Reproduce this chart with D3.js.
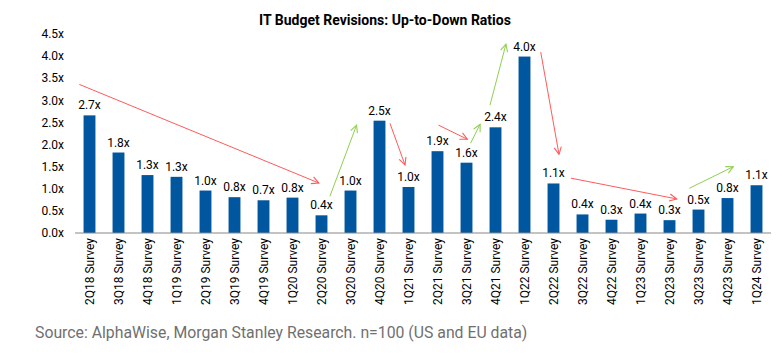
<!DOCTYPE html>
<html>
<head>
<meta charset="utf-8">
<script src="https://cdn.jsdelivr.net/npm/d3@7"></script>
<style>
body { margin: 0; background: #fff; }
text { font-family: Roboto, "Liberation Sans", sans-serif; }
</style>
</head>
<body>
<div id="chart-area"></div>
<script>
// surveys and up-to-down ratios
var surveys = ["2Q18", "3Q18", "4Q18", "1Q19", "2Q19", "3Q19", "4Q19", "1Q20", "2Q20", "3Q20",
    "4Q20", "1Q21", "2Q21", "3Q21", "4Q21", "1Q22", "2Q22", "3Q22", "4Q22", "1Q23", "2Q23",
    "3Q23", "4Q23", "1Q24"];
var ratios = [2.66, 1.82, 1.31, 1.27, 0.96, 0.81, 0.74, 0.80, 0.40, 0.96, 2.54, 1.04, 1.85,
    1.59, 2.39, 3.99, 1.12, 0.42, 0.30, 0.44, 0.29, 0.53, 0.79, 1.08];
var labels = ["2.7x", "1.8x", "1.3x", "1.3x", "1.0x", "0.8x", "0.7x", "0.8x", "0.4x", "1.0x",
    "2.5x", "1.0x", "1.9x", "1.6x", "2.4x", "4.0x", "1.1x", "0.4x", "0.3x", "0.4x", "0.3x",
    "0.5x", "0.8x", "1.1x"];
var yTicks = [0, 0.5, 1, 1.5, 2, 2.5, 3, 3.5, 4, 4.5];
// trend arrows: [from index, from value, to index, to value]
var redArrows = [
    [-0.35, 3.36, 7.91, 1.13],
    [10.36, 2.48, 10.88, 1.54],
    [12.03, 2.44, 13.03, 2.12],
    [15.56, 4.09, 16.19, 1.78],
    [16.60, 1.24, 20.25, 0.77]
];
var greenArrows = [
    [8.29, 0.83, 9.21, 2.44],
    [13.14, 2.03, 13.47, 2.46],
    [13.81, 2.89, 14.36, 4.27],
    [20.68, 1.01, 22.20, 1.50]
];

var margin = { left: 75, right: 13, top: 34, bottom: 121 };
var W = 784, H = 354;
var width = W - margin.left - margin.right;
var height = H - margin.top - margin.bottom;

var svg = d3.select("#chart-area").append("svg")
    .attr("width", W)
    .attr("height", H);
var g = svg.append("g")
    .attr("transform", "translate(" + margin.left + ", " + margin.top + ")");

var x = d3.scaleBand()
    .domain(surveys)
    .range([0, width])
    .paddingInner(0.59)
    .paddingOuter(0.295);
var y = d3.scaleLinear()
    .domain([0, 4.5])
    .range([height, 0]);
// fractional index -> pixel
var xi = function (i) { return x.step() * (i + 0.5); };

svg.append("text")
    .attr("x", 385)
    .attr("y", 25)
    .attr("text-anchor", "middle")
    .attr("font-size", "14px")
    .attr("font-weight", "bold")
    .text("IT Budget Revisions: Up-to-Down Ratios");

// y axis labels only
g.selectAll(".ytick").data(yTicks).enter().append("text")
    .attr("class", "ytick")
    .attr("x", -11)
    .attr("y", function (d) { return y(d); })
    .attr("dy", "0.35em")
    .attr("text-anchor", "end")
    .attr("font-size", "12px")
    .text(function (d) { return d.toFixed(1) + "x"; });

g.selectAll(".bar").data(ratios).enter().append("rect")
    .attr("class", "bar")
    .attr("x", function (d, i) { return x(surveys[i]); })
    .attr("y", function (d) { return y(d); })
    .attr("width", x.bandwidth())
    .attr("height", function (d) { return height - y(d); })
    .attr("fill", "#0057a0");

g.selectAll(".vlabel").data(ratios).enter().append("text")
    .attr("class", "vlabel")
    .attr("x", function (d, i) { return x(surveys[i]) + x.bandwidth() / 2; })
    .attr("y", function (d) { return y(d) - 6; })
    .attr("text-anchor", "middle")
    .attr("font-size", "12px")
    .text(function (d, i) { return labels[i]; });

g.append("line")
    .attr("x1", 0).attr("x2", width)
    .attr("y1", height).attr("y2", height)
    .attr("stroke", "#888")
    .attr("stroke-width", 1);

g.selectAll(".xlabel").data(surveys).enter().append("text")
    .attr("class", "xlabel")
    .attr("transform", function (d) {
        return "translate(" + (x(d) + x.bandwidth() / 2) + "," + (height + 5) + ") rotate(-90)";
    })
    .attr("dy", "0.35em")
    .attr("text-anchor", "end")
    .attr("font-size", "12px")
    .text(function (d) { return d + " Survey"; });

var defs = svg.append("defs");
function marker(id, color) {
    defs.append("marker")
        .attr("id", id)
        .attr("viewBox", "0 0 10 10")
        .attr("refX", 9).attr("refY", 5)
        .attr("markerWidth", 9).attr("markerHeight", 9)
        .attr("markerUnits", "userSpaceOnUse")
        .attr("orient", "auto")
        .append("path")
        .attr("d", "M1,1 L9,5 L1,9")
        .attr("fill", "none")
        .attr("stroke", color)
        .attr("stroke-width", 1.2);
}
marker("red-head", "#ff5b5b");
marker("green-head", "#8fd150");

function drawArrows(data, color, id) {
    g.selectAll(".arrow-" + id).data(data).enter().append("line")
        .attr("class", "arrow-" + id)
        .attr("x1", function (d) { return xi(d[0]); })
        .attr("y1", function (d) { return y(d[1]); })
        .attr("x2", function (d) { return xi(d[2]); })
        .attr("y2", function (d) { return y(d[3]); })
        .attr("stroke", color)
        .attr("stroke-width", 1)
        .attr("marker-end", "url(#" + id + ")");
}
drawArrows(redArrows, "#ff5b5b", "red-head");
drawArrows(greenArrows, "#8fd150", "green-head");

svg.append("text")
    .attr("x", 35)
    .attr("y", 338)
    .attr("font-size", "15.8px")
    .attr("fill", "#707070")
    .text("Source: AlphaWise, Morgan Stanley Research. n=100 (US and EU data)");
</script>
</body>
</html>
